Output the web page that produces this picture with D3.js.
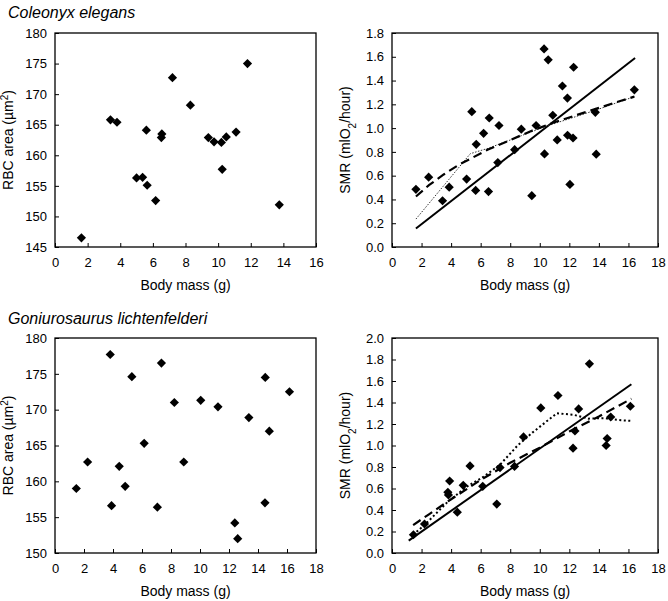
<!DOCTYPE html>
<html><head><meta charset="utf-8">
<script src="https://cdn.jsdelivr.net/npm/d3@7"></script>
<style>body{margin:0;background:#fff}svg{display:block}text{font-family:Arial,"Liberation Sans",sans-serif;fill:#000}</style>
</head><body><svg id="c" width="668" height="601"></svg>
<script>
// ---- Data ----
const titles = ["Coleonyx elegans", "Goniurosaurus lichtenfelderi"];
const xTitle = "Body mass (g)";

// Coleonyx elegans RBC area
const ceRbcMass = [1.62,3.4,3.8,5.0,5.37,5.6,5.65,6.17,6.52,6.55,7.2,8.3,9.4,9.75,10.2,10.25,10.5,11.1,11.8,13.75];
const ceRbcArea = [146.5,165.8,165.4,156.3,156.4,164.1,155.1,152.6,162.9,163.5,172.7,168.2,162.9,162.2,162.1,157.7,163.0,163.8,175.0,151.9];

// Coleonyx elegans SMR
const ceSmrMass = [1.62,2.48,3.42,3.87,5.05,5.4,5.66,5.7,6.2,6.53,6.58,7.24,7.16,8.3,8.75,9.46,9.75,10.29,10.32,10.57,10.88,11.18,11.53,11.87,11.88,12.04,12.25,12.29,13.76,13.82,16.4];
const ceSmrVal  = [0.485,0.587,0.389,0.503,0.571,1.138,0.476,0.864,0.956,0.466,1.085,1.022,0.71,0.819,0.991,0.432,1.022,1.666,0.783,1.574,1.108,0.901,1.354,1.253,0.94,0.526,0.917,1.512,1.133,0.781,1.322];
const ceLinX = [1.62,16.45], ceLinY = [0.155,1.59];
const cePowX = [1.62,2.5,3.5,4.5,5.5,6.5,8.0,9.5,11.0,12.5,14.0,15.5,16.4];
const cePowY = [0.425,0.52,0.61,0.69,0.755,0.82,0.9,0.98,1.05,1.11,1.17,1.23,1.265];
const ceSegX = [1.62,5.3,6.5,8.0,10.3,13.9,16.4];
const ceSegY = [0.235,0.785,0.83,0.9,1.01,1.156,1.265];

// Goniurosaurus lichtenfelderi RBC area
const glRbcMass = [1.47,2.25,3.81,3.9,4.43,4.84,5.3,6.15,7.06,7.34,8.23,8.88,10.05,11.24,12.4,12.6,13.37,14.48,14.5,14.78,16.17];
const glRbcArea = [159.0,162.7,177.7,156.6,162.1,159.3,174.6,165.3,156.4,176.5,171.0,162.7,171.3,170.4,154.2,152.0,168.9,157.0,174.5,167.0,172.5];

// Goniurosaurus lichtenfelderi SMR
const glSmrMass = [1.45,2.2,3.78,3.82,3.9,4.42,4.82,5.28,6.14,7.09,7.31,8.29,8.9,10.07,11.23,12.25,12.38,12.63,13.36,14.49,14.56,14.8,16.13];
const glSmrVal  = [0.17,0.27,0.565,0.54,0.67,0.38,0.63,0.81,0.62,0.455,0.795,0.805,1.08,1.35,1.465,0.975,1.135,1.34,1.76,1.0,1.065,1.265,1.365];
const glLinX = [1.13,16.2], glLinY = [0.115,1.57];
const glPowX = [1.43,2.5,4.0,6.0,8.0,10.0,12.0,14.0,16.2];
const glPowY = [0.26,0.36,0.5,0.68,0.84,0.98,1.13,1.27,1.435];
const glLoX = [1.43,2.2,3.8,5.1,6.1,7.3,8.5,9.5,11.16,12.3,13.3,14.4,14.8,15.5,16.13];
const glLoY = [0.17,0.26,0.48,0.62,0.7,0.82,1.0,1.12,1.3,1.285,1.25,1.255,1.245,1.235,1.23];

// ---- Drawing ----
const svg = d3.select("#c");
const font = 'Arial,"Liberation Sans",sans-serif';

svg.append("text").attr("x",8).attr("y",18).attr("font-size",16).attr("font-style","italic").text(titles[0]);
svg.append("text").attr("x",8).attr("y",324).attr("font-size",16).attr("font-style","italic").text(titles[1]);

function panel(opt){
  const g = svg.append("g");
  const x = d3.scaleLinear().domain(opt.xd).range([opt.l, opt.r]);
  const y = d3.scaleLinear().domain(opt.yd).range([opt.b, opt.t]);
  g.append("rect").attr("x",opt.l).attr("y",opt.t).attr("width",opt.r-opt.l).attr("height",opt.b-opt.t)
    .attr("fill","none").attr("stroke","#000").attr("stroke-width",1.3);
  const xa = d3.axisBottom(x).tickValues(opt.xt).tickSize(-4).tickFormat(d3.format("d")).tickPadding(8);
  const ya = d3.axisLeft(y).tickValues(opt.yt).tickSize(-4).tickFormat(opt.yf).tickPadding(8);
  const gx = g.append("g").attr("transform",`translate(0,${opt.b})`).call(xa);
  const gy = g.append("g").attr("transform",`translate(${opt.l},0)`).call(ya);
  [gx,gy].forEach(a=>{
    a.select(".domain").remove();
    a.selectAll("line").attr("stroke","#000").attr("stroke-width",1);
    a.selectAll("text").attr("font-size",13).attr("font-family",font).attr("fill","#000");
  });
  gx.selectAll("text").attr("dy","0.9em");
  g.append("text").attr("x",(opt.l+opt.r)/2).attr("y",opt.b+43).attr("text-anchor","middle").attr("font-size",14).text(xTitle);
  const yt = g.append("text").attr("transform",`translate(${opt.l-42},${(opt.t+opt.b)/2}) rotate(-90)`)
    .attr("text-anchor","middle").attr("font-size",14);
  opt.ylab(yt);
  const line = d3.line().x(d=>x(d[0])).y(d=>y(d[1]));
  (opt.lines||[]).forEach(L=>{
    g.append("path").datum(d3.zip(L.x,L.y)).attr("d",line).attr("fill","none")
      .attr("stroke",L.c||"#000").attr("stroke-width",L.w).attr("stroke-dasharray",L.dash||null);
  });
  const pts = d3.zip(opt.px,opt.py);
  const s = 4.6;
  g.selectAll("path.pt").data(pts).join("path").attr("class","pt")
    .attr("d",d=>{const cx=x(d[0]),cy=y(d[1]);return `M${cx},${cy-s}L${cx+s},${cy}L${cx},${cy+s}L${cx-s},${cy}Z`;})
    .attr("fill","#000");
}

const rbcLab = t=>{t.append("tspan").text("RBC area (µm");t.append("tspan").attr("baseline-shift","super").attr("font-size",10).text("2");t.append("tspan").text(")");};
const smrLab = t=>{t.append("tspan").text("SMR (mlO");t.append("tspan").attr("baseline-shift","sub").attr("font-size",10).text("2");t.append("tspan").text("/hour)");};

panel({l:55,r:316,t:33,b:247,xd:[0,16],yd:[145,180],xt:d3.range(0,17,2),yt:d3.range(145,181,5),yf:d3.format("d"),
  ylab:rbcLab,px:ceRbcMass,py:ceRbcArea});
panel({l:392,r:658,t:33,b:247,xd:[0,18],yd:[0,1.8],xt:d3.range(0,19,2),yt:[0,0.2,0.4,0.6,0.8,1.0,1.2,1.4,1.6,1.8],yf:d3.format(".1f"),
  ylab:smrLab,px:ceSmrMass,py:ceSmrVal,
  lines:[{x:ceLinX,y:ceLinY,w:2},{x:ceSegX,y:ceSegY,w:1,dash:"1.5,1.5",c:"#333"},{x:cePowX,y:cePowY,w:2.2,dash:"9,5"}]});
panel({l:55,r:316,t:338,b:553,xd:[0,18],yd:[150,180],xt:d3.range(0,19,2),yt:d3.range(150,181,5),yf:d3.format("d"),
  ylab:rbcLab,px:glRbcMass,py:glRbcArea});
panel({l:392,r:658,t:338,b:553,xd:[0,18],yd:[0,2.0],xt:d3.range(0,19,2),yt:[0,0.2,0.4,0.6,0.8,1.0,1.2,1.4,1.6,1.8,2.0],yf:d3.format(".1f"),
  ylab:smrLab,px:glSmrMass,py:glSmrVal,
  lines:[{x:glLinX,y:glLinY,w:2},{x:glLoX,y:glLoY,w:2,dash:"2,2.5"},{x:glPowX,y:glPowY,w:2.2,dash:"9,5"}]});
</script></body></html>
